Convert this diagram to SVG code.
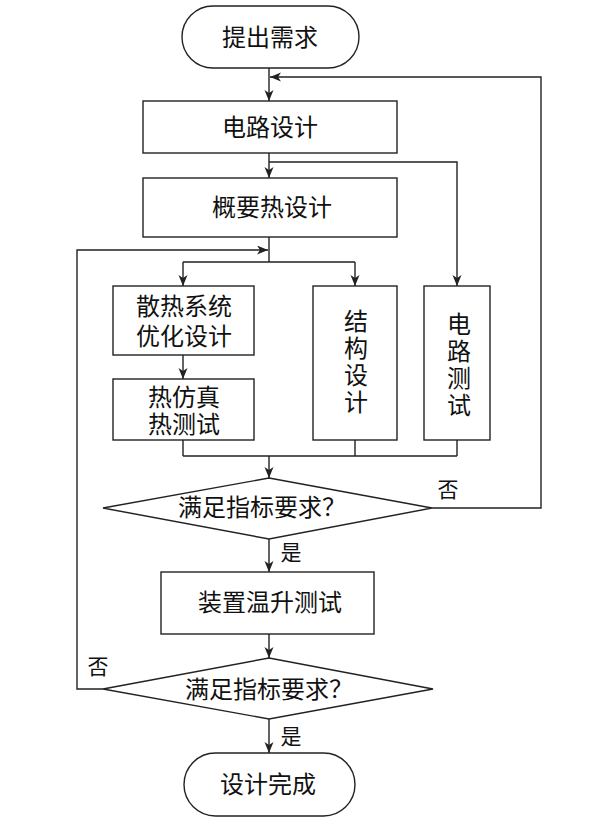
<svg xmlns="http://www.w3.org/2000/svg" width="589" height="822" viewBox="0 0 589 822">
<style>
.n{fill:#fff;stroke:#222;stroke-width:1.4}
.c{fill:none;stroke:#222;stroke-width:1.4}
.a{marker-end:url(#ah)}
text{font-family:"Liberation Serif","Noto Sans CJK SC",serif;font-size:24px;fill:#111;text-anchor:middle;dominant-baseline:central}
.s{font-size:21px}
</style>
<defs>
<marker id="ah" markerWidth="12" markerHeight="10" refX="11" refY="4.5" orient="auto" markerUnits="userSpaceOnUse">
<path d="M0,0 L11,4.5 L0,9 L3,4.5 z" fill="#222"/>
</marker>
</defs>
<rect width="589" height="822" fill="#fff"/>
<g id="connectors">
<path class="c a" d="M269,68 V101"/>
<path class="c a" d="M432,508 H541 V77 H270"/>
<path class="c a" d="M269,153 V178"/>
<path class="c a" d="M269,162 H457 V286"/>
<path class="c" d="M269,237 V262 M183,262 H355"/>
<path class="c a" d="M183,262 V286"/>
<path class="c a" d="M355,262 V286"/>
<path class="c a" d="M103,689 H77 V250 H268"/>
<path class="c a" d="M183,355 V379"/>
<path class="c" d="M183,440 V456 M355,440 V456 M457,440 V456 M183,456 H457"/>
<path class="c a" d="M269,456 V478"/>
<path class="c a" d="M269,539 V572"/>
<path class="c a" d="M269,634 V658"/>
<path class="c a" d="M269,719 V753"/>
</g>
<g id="start"><rect class="n" x="182" y="6" width="177" height="62" rx="31"/><text x="270" y="38">提出需求</text></g>
<g id="circuit"><rect class="n" x="143" y="101" width="254" height="52"/><text x="270" y="128">电路设计</text></g>
<g id="thermal"><rect class="n" x="143" y="178" width="254" height="59"/><text x="272" y="208">概要热设计</text></g>
<g id="opt"><rect class="n" x="113" y="286" width="141" height="69"/><text x="184" y="307">散热系统</text><text x="184" y="337">优化设计</text></g>
<g id="sim"><rect class="n" x="113" y="379" width="141" height="61"/><text x="184" y="398">热仿真</text><text x="184" y="425">热测试</text></g>
<g id="struct"><rect class="n" x="313" y="286" width="84" height="154"/><text x="356" y="322">结</text><text x="356" y="349">构</text><text x="356" y="376">设</text><text x="356" y="403">计</text></g>
<g id="ctest"><rect class="n" x="424" y="286" width="66" height="154"/><text x="459" y="325">电</text><text x="459" y="352">路</text><text x="459" y="379">测</text><text x="459" y="406">试</text></g>
<g id="dec1"><path class="n" d="M269,478 L432,508 L269,539 L103,508 Z"/><text x="262" y="508">满足指标要求？</text></g>
<g id="temp"><rect class="n" x="161" y="572" width="213" height="62"/><text x="270" y="603">装置温升测试</text></g>
<g id="dec2"><path class="n" d="M269,658 L433,689 L269,719 L103,689 Z"/><text x="269" y="690">满足指标要求？</text></g>
<g id="end"><rect class="n" x="184" y="753" width="171" height="63" rx="31.5"/><text x="268" y="785">设计完成</text></g>
<g id="labels">
<text class="s" x="448" y="490">否</text>
<text class="s" x="291" y="553">是</text>
<text class="s" x="98" y="667">否</text>
<text class="s" x="291" y="737">是</text>
</g>
</svg>
